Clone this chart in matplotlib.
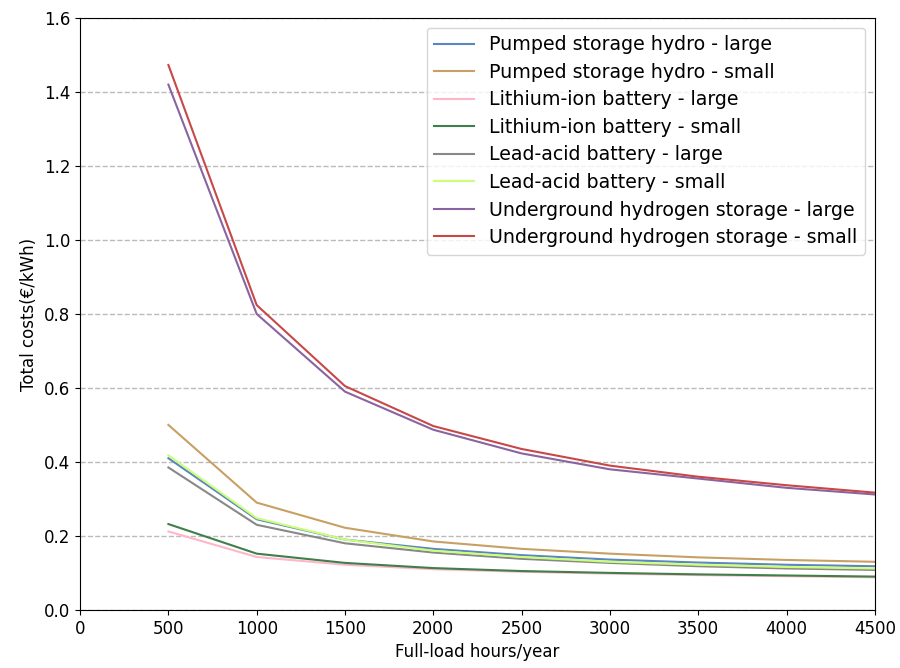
import matplotlib.pyplot as plt

hours = [500, 1000, 1500, 2000, 2500, 3000, 3500, 4000, 4500]

phs_large = [0.41, 0.245, 0.19, 0.165, 0.148, 0.136, 0.128, 0.122, 0.118]
phs_small = [0.50, 0.29, 0.222, 0.185, 0.165, 0.152, 0.142, 0.135, 0.13]
li_large = [0.212, 0.143, 0.122, 0.11, 0.103, 0.098, 0.094, 0.091, 0.088]
li_small = [0.232, 0.152, 0.127, 0.113, 0.105, 0.1, 0.096, 0.093, 0.09]
pb_large = [0.385, 0.23, 0.18, 0.155, 0.138, 0.127, 0.118, 0.112, 0.108]
pb_small = [0.418, 0.248, 0.19, 0.16, 0.143, 0.13, 0.122, 0.116, 0.112]
h2_large = [1.42, 0.80, 0.59, 0.487, 0.423, 0.38, 0.355, 0.33, 0.312]
h2_small = [1.473, 0.824, 0.605, 0.497, 0.435, 0.39, 0.36, 0.337, 0.317]

labels = ['Pumped storage hydro - large', 'Pumped storage hydro - small',
          'Lithium-ion battery - large', 'Lithium-ion battery - small',
          'Lead-acid battery - large', 'Lead-acid battery - small',
          'Underground hydrogen storage - large', 'Underground hydrogen storage - small']
series = [phs_large, phs_small, li_large, li_small, pb_large, pb_small, h2_large, h2_small]
colors = ['#5b87c0', '#c8a064', '#ffb6c8', '#3f7f4a', '#888888', '#ccff77', '#8a64a0', '#c84848']

fig, ax = plt.subplots(figsize=(9, 6.68), dpi=100)
for y, lab, c in zip(series, labels, colors):
    ax.plot(hours, y, color=c, label=lab, linewidth=1.5)

ax.set_xlim(0, 4500)
ax.set_ylim(0, 1.6)
ax.set_xticks(range(0, 4501, 500))
ax.grid(axis='y', linestyle='--', color='#bbbbbb', linewidth=1)
ax.set_axisbelow(True)
ax.tick_params(labelsize=12)
ax.set_xlabel('Full-load hours/year', fontsize=12)
ax.set_ylabel('Total costs(€/kWh)', fontsize=12)
ax.legend(loc='upper right', fontsize=13.7, labelspacing=0.45, handlelength=2.1)

fig.subplots_adjust(left=0.089, right=0.972, top=0.973, bottom=0.087)
fig.savefig('out.png')
